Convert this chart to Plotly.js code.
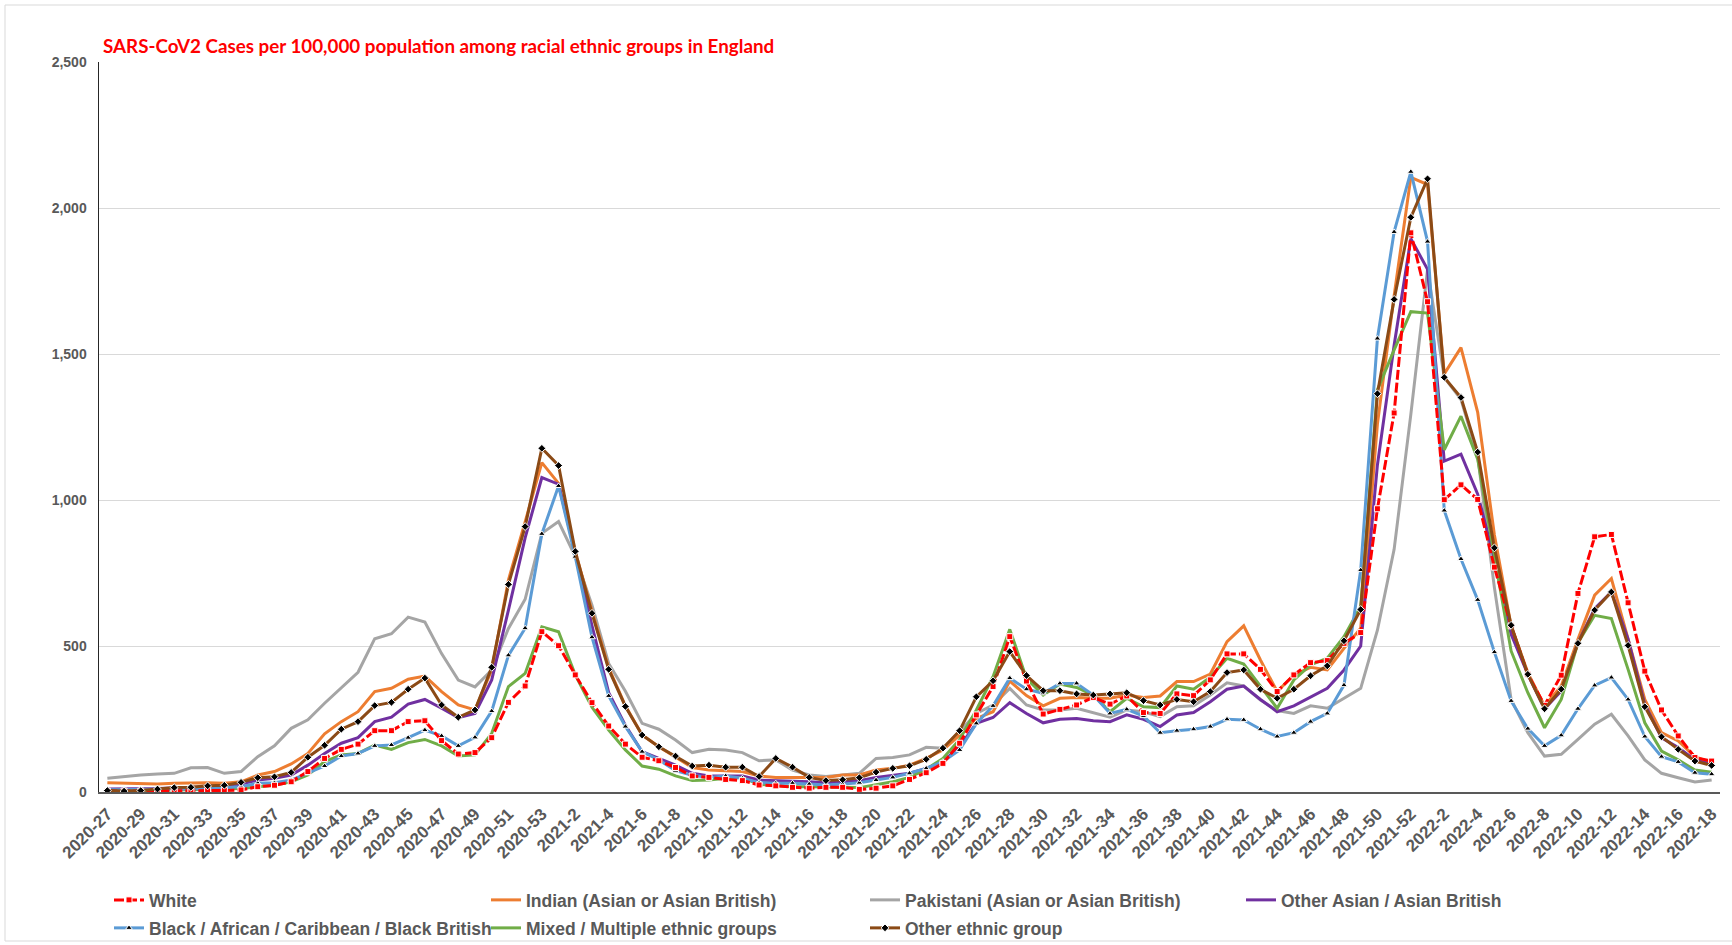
<!DOCTYPE html>
<html>
<head>
<meta charset="utf-8">
<script src="https://cdn.plot.ly/plotly-3.0.1.min.js"></script>
<style>html,body{margin:0;padding:0;background:#fff;}#chart{width:1732px;height:945px;}</style>
</head>
<body>
<div id="chart"></div>
<script>
const weeks = ["2020-27","2020-28","2020-29","2020-30","2020-31","2020-32","2020-33","2020-34","2020-35","2020-36","2020-37","2020-38","2020-39","2020-40","2020-41","2020-42","2020-43","2020-44","2020-45","2020-46","2020-47","2020-48","2020-49","2020-50","2020-51","2020-52","2020-53",
"2021-1","2021-2","2021-3","2021-4","2021-5","2021-6","2021-7","2021-8","2021-9","2021-10","2021-11","2021-12","2021-13","2021-14","2021-15","2021-16","2021-17","2021-18","2021-19","2021-20","2021-21","2021-22","2021-23","2021-24","2021-25","2021-26","2021-27","2021-28","2021-29","2021-30","2021-31","2021-32","2021-33","2021-34","2021-35","2021-36","2021-37","2021-38","2021-39","2021-40","2021-41","2021-42","2021-43","2021-44","2021-45","2021-46","2021-47","2021-48","2021-49","2021-50","2021-51","2021-52",
"2022-1","2022-2","2022-3","2022-4","2022-5","2022-6","2022-7","2022-8","2022-9","2022-10","2022-11","2022-12","2022-13","2022-14","2022-15","2022-16","2022-17","2022-18"];

const tickLabels = ["2020-27","2020-29","2020-31","2020-33","2020-35","2020-37","2020-39","2020-41","2020-43","2020-45","2020-47","2020-49","2020-51","2020-53",
"2021-2","2021-4","2021-6","2021-8","2021-10","2021-12","2021-14","2021-16","2021-18","2021-20","2021-22","2021-24","2021-26","2021-28","2021-30","2021-32","2021-34","2021-36","2021-38","2021-40","2021-42","2021-44","2021-46","2021-48","2021-50","2021-52",
"2022-2","2022-4","2022-6","2022-8","2022-10","2022-12","2022-14","2022-16","2022-18"];

const white = [3,3,3,3,4,4,5,5,7, 18,23,35,70,115,146,164,210,210,241,244, 176,130,135,186,307,363,549,501,401,306,226,164,
119,107,84,55,50,43,39,24,21,16,13,16,16,9,13,21,43,66,98,167,264,361,
532,380,267,283,298,324,301,329,272,269,336,330,384,473,473,420,344,401,443,450,509,546,
970,1298,1915,1679,1001,1052,1002,770,569,403,297,400,680,874,882,648,414,281,192,118,106];

const indian = [32,30,27,27,30,32,32,30,35, 58,70,96,132,199,241,275,344,355,386,397, 344,298,281,418,726,925,1128,1057,823,620,425,295,
195,155,121,84,75,73,70,55,50,50,50,50,58,58,75,81,92,115,144,195,252,275,
380,330,295,321,324,321,321,332,324,329,378,378,404,515,569,452,344,401,427,418,492,561,
1260,1700,2105,2080,1432,1522,1300,880,569,409,295,363,523,674,731,523,317,203,175,121,100];

const pakistani = [47,53,58,62,64,83,84,64,70, 121,158,218,247,304,358,410,525,542,599,582, 474,383,360,418,560,660,886,926,806,640,440,345,
235,215,178,135,146,144,135,107,110,75,58,53,58,64,115,118,127,153,150,207,269,298,
355,298,281,281,287,272,256,281,275,258,292,295,332,374,363,315,279,269,295,287,321,355,
554,831,1293,1790,1420,1345,1150,700,317,203,123,129,180,232,266,192,110,64,49,34,41];

const otherAsian = [10,10,11,12,14,16,18,20,27, 41,47,58,92,132,167,186,241,256,301,317, 287,255,269,384,623,870,1077,1054,817,570,340,228,
138,115,92,64,55,55,55,41,39,39,35,32,35,39,50,58,64,81,104,155,235,255,
306,269,237,249,252,244,241,264,249,224,264,272,309,352,363,317,275,295,326,355,418,500,
1120,1530,1895,1790,1133,1157,1020,797,540,403,285,346,511,628,685,523,300,186,152,110,95];

const black = [8,8,8,9,10,10,12,14,18, 30,32,41,64,89,123,132,158,161,186,212, 192,158,187,277,468,561,884,1048,806,530,329,224,
138,110,73,57,50,55,47,32,30,30,27,24,27,32,41,50,64,81,104,144,235,295,
390,352,338,372,372,332,269,283,260,203,210,215,224,249,247,215,190,203,241,269,366,760,
1553,1918,2124,1885,964,798,658,479,312,217,158,194,285,365,392,317,190,121,103,66,61];

const mixed = [5,5,5,6,7,8,9,10,12, 18,23,35,58,104,127,132,161,146,169,180, 158,123,127,201,361,406,566,549,401,290,212,144,
89,78,55,39,41,47,50,26,21,18,18,18,16,15,26,35,50,78,115,180,281,395,
557,389,332,370,358,332,275,321,292,289,363,352,393,458,438,361,287,384,435,458,532,635,
1377,1514,1645,1640,1172,1287,1140,808,483,340,220,317,511,605,594,420,237,140,110,75,68];

const otherEthnic = [5,3,5,10,15,16,21,23,33, 49,52,67,119,160,215,241,296,307,352,390, 298,256,281,427,711,909,1177,1118,824,612,420,293,
195,155,123,89,92,85,85,53,115,85,50,39,42,49,68,81,90,112,150,210,326,381,
481,399,347,347,336,332,336,340,313,298,317,309,344,409,418,352,321,352,398,432,518,625,
1364,1687,1968,2100,1420,1351,1164,836,571,403,285,352,509,623,685,502,292,189,146,106,91];

const seriesNames = ["White","Indian (Asian or Asian British)","Pakistani (Asian or Asian British)","Other Asian / Asian British",
"Black / African / Caribbean / Black British","Mixed / Multiple ethnic groups","Other ethnic group"];

// layout geometry (px)
const W = 1732, H = 945, L = 99, R = 12, T = 62, B = 153;
const PW = W - L - R, PH = H - T - B;
const px2x = p => (p - L) / PW;
const py2y = p => (H - B - p) / PH;

const mkLine = (name, y, color, opts, legendId) => Object.assign({
  type: 'scatter', mode: 'lines', name: name, x: weeks, y: y,
  line: {color: color, width: 3},
  legend: legendId,
  hoverinfo: 'x+y+name'
}, opts || {});

const traces = [
  mkLine(seriesNames[2], pakistani, '#A5A5A5', null, 'legend3'),
  mkLine(seriesNames[1], indian, '#ED7D31', null, 'legend2'),
  mkLine(seriesNames[3], otherAsian, '#7030A0', null, 'legend4'),
  mkLine(seriesNames[5], mixed, '#70AD47', null, 'legend6'),
  mkLine(seriesNames[4], black, '#5B9BD5', {mode: 'lines+markers',
    marker: {symbol: 'triangle-up', size: 6, color: '#000000', line: {color: '#ffffff', width: 1}}}, 'legend5'),
  mkLine(seriesNames[0], white, '#FF0000', {mode: 'lines+markers',
    line: {color: '#FF0000', width: 3, dash: '10px,3px'},
    marker: {symbol: 'square', size: 6, color: '#FF0000', line: {color: '#ffffff', width: 1}}}, 'legend'),
  mkLine(seriesNames[6], otherEthnic, '#8B4A16', {mode: 'lines+markers',
    marker: {symbol: 'diamond', size: 6, color: '#000000', line: {color: '#ffffff', width: 1}}}, 'legend7')
];

const legFont = {family: 'Liberation Sans, Arial, sans-serif', size: 17.5, color: '#595959', weight: 'bold'};
const mkLegend = (textPx, rowPy) => ({
  x: px2x(textPx - 42), xanchor: 'left', y: py2y(rowPy), yanchor: 'middle',
  orientation: 'h', font: legFont, bgcolor: 'rgba(0,0,0,0)', borderwidth: 0, itemwidth: 30
});

const layout = {
  width: W, height: H,
  margin: {l: L, r: R, t: T, b: B, pad: 0, autoexpand: false},
  paper_bgcolor: '#ffffff', plot_bgcolor: '#ffffff',
  showlegend: true,
  title: {
    text: 'SARS-CoV2 Cases per 100,000 population among racial ethnic groups in England',
    font: {family: 'Liberation Sans Narrow, Arial Narrow, Lato, sans-serif', size: 18.8, color: '#FF0000', weight: 'bold'},
    xref: 'container', yref: 'container', x: 103 / W, xanchor: 'left', y: 1 - 46 / H, yanchor: 'middle'
  },
  xaxis: {
    type: 'category', range: [-0.5, weeks.length - 0.5], autorange: false, automargin: false,
    tickmode: 'array', tickvals: tickLabels, ticktext: tickLabels, tickangle: -45,
    tickfont: {family: 'Liberation Sans, Arial, sans-serif', size: 17, color: '#595959', weight: 'bold'},
    showgrid: false, zeroline: false, showline: true, linecolor: '#595959', linewidth: 1.5,
    ticks: '', ticklabelstandoff: 4, fixedrange: true
  },
  yaxis: {
    range: [0, 2500], autorange: false, dtick: 500, tick0: 0, automargin: false,
    tickformat: ',d',
    tickfont: {family: 'Liberation Sans, Arial, sans-serif', size: 14, color: '#595959', weight: 'bold'},
    showgrid: true, gridcolor: '#D9D9D9', gridwidth: 1,
    zeroline: false, showline: true, linecolor: '#262626', linewidth: 1.5,
    ticks: '', ticklabelstandoff: 8, fixedrange: true
  },
  legend:  mkLegend(151, 900),
  legend2: mkLegend(528, 900),
  legend3: mkLegend(907, 900),
  legend4: mkLegend(1283, 900),
  legend5: mkLegend(151, 928),
  legend6: mkLegend(528, 928),
  legend7: mkLegend(907, 928),
  shapes: [{
    type: 'rect', xref: 'paper', yref: 'paper',
    x0: px2x(5), x1: px2x(1750), y0: py2y(941), y1: py2y(5),
    line: {color: '#D9D9D9', width: 1}, fillcolor: 'rgba(0,0,0,0)', layer: 'below'
  }]
};

Plotly.newPlot('chart', traces, layout, {displayModeBar: false, staticPlot: true});
</script>
</body>
</html>
